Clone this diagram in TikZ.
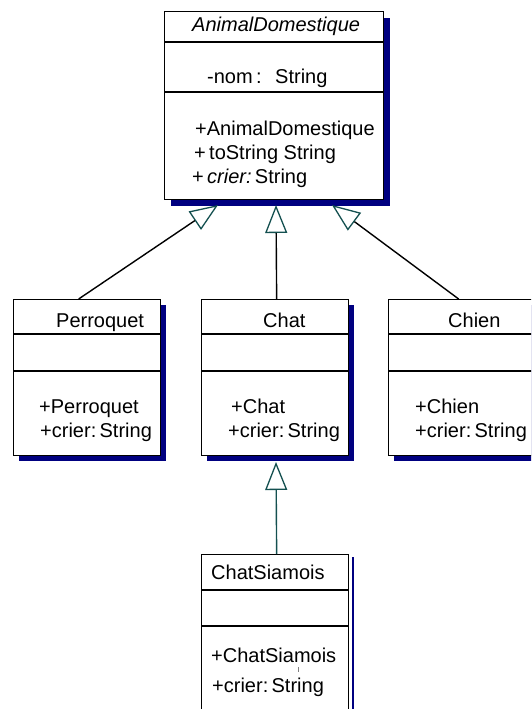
\documentclass[tikz,border=0pt]{standalone}
\usepackage{fontspec}
\setmainfont{Liberation Sans}
\usetikzlibrary{arrows.meta,shadows}
\definecolor{shadenavy}{RGB}{0,0,128}
\definecolor{genteal}{RGB}{20,80,80}
\begin{document}
\begin{tikzpicture}[x=1pt,y=-1pt,
  classbox/.style={draw=black,line width=1.3pt,fill=white,inner sep=0pt,anchor=north west},
  boxshadow/.style={drop shadow={shadow xshift=#1,shadow yshift=-#1,fill=shadenavy,opacity=1}},
  txt/.style={anchor=base west,inner sep=0pt,font=\fontsize{20}{24}\selectfont},
  divider/.style={line width=1.3pt},
  inherit/.style={line width=1.4pt,-{Triangle[open,length=28pt,width=22pt,color=genteal,line width=1.3pt]}}]
\clip (0,0) rectangle (531,709);
\fill[white] (0,0) rectangle (531,709);

% abstract superclass
\node[classbox,boxshadow=6.5pt,minimum width=219pt,minimum height=188pt] (animal) at (164,11) {};
\draw[divider] (animal.west |- 0,42) -- (animal.east |- 0,42);
\draw[divider] (animal.west |- 0,92) -- (animal.east |- 0,92);
\node[txt] (animalname) at (192,32) {\itshape AnimalDomestique};
\node[txt] (animalattr) at (207,83) {-nom\,:};
\node[txt] (animalattrtype) at (275,83) {String};
\node[txt] (animalctor) at (195,135) {+AnimalDomestique};
\node[txt] (animaltostr) at (194,159) {+\,toString String};
\node[txt] (animalcrier) at (192,183) {+\,\textit{crier:}\,String};

% subclasses
\node[classbox,boxshadow=5pt,minimum width=147pt,minimum height=156pt] (pq) at (13,299) {};
\draw[divider] (pq.west |- 0,334) -- (pq.east |- 0,334);
\draw[divider] (pq.west |- 0,371) -- (pq.east |- 0,371);
\node[txt] (pqname) at (56,327) {Perroquet};
\node[txt] (pqctor) at (39,413) {+Perroquet};
\node[txt] (pqcrier) at (40,437) {+crier:\,String};

\node[classbox,boxshadow=5.5pt,minimum width=147pt,minimum height=156pt] (chat) at (201,299) {};
\draw[divider] (chat.west |- 0,334) -- (chat.east |- 0,334);
\draw[divider] (chat.west |- 0,371) -- (chat.east |- 0,371);
\node[txt] (chatname) at (263,327) {Chat};
\node[txt] (chatctor) at (231,413) {+Chat};
\node[txt] (chatcrier) at (228,437) {+crier:\,String};

\node[classbox,boxshadow=5.5pt,minimum width=160pt,minimum height=156pt] (chien) at (388,299) {};
\draw[divider] (chien.west |- 0,334) -- (chien.east |- 0,334);
\draw[divider] (chien.west |- 0,371) -- (chien.east |- 0,371);
\node[txt] (chienname) at (448,327) {Chien};
\node[txt] (chienctor) at (415,413) {+Chien};
\node[txt] (chiencrier) at (415,437) {+crier:\,String};

% second-level subclass
\node[classbox,minimum width=147pt,minimum height=170pt] (siam) at (201,554) {};
\draw[shadenavy,line width=2.5pt] (353,557) -- (353,720);
\draw[divider] (siam.west |- 0,590) -- (siam.east |- 0,590);
\draw[divider] (siam.west |- 0,626) -- (siam.east |- 0,626);
\node[txt] (siamname) at (211,579) {ChatSiamois};
\node[txt] (siamctor) at (211,662) {+ChatSiamois};
\node[txt] (siamcrier) at (212,692) {+crier:\,String};
\draw[gray,line width=0.8pt] (298,667) -- (298,672);

% generalisation arrows
\coordinate (tipL) at (218,205);
\coordinate (tipM) at (276,205);
\coordinate (tipR) at (332,205);
\coordinate (tipS) at (276,462);
\draw[inherit] ([xshift=-8.5pt]pq.north) -- (tipL);
\draw[inherit] ([xshift=1.5pt]chat.north) -- (tipM);
\draw[inherit] ([xshift=-10pt]chien.north) -- (tipR);
\draw[inherit,genteal] ([xshift=1.5pt]siam.north) -- (tipS);
\end{tikzpicture}
\end{document}
